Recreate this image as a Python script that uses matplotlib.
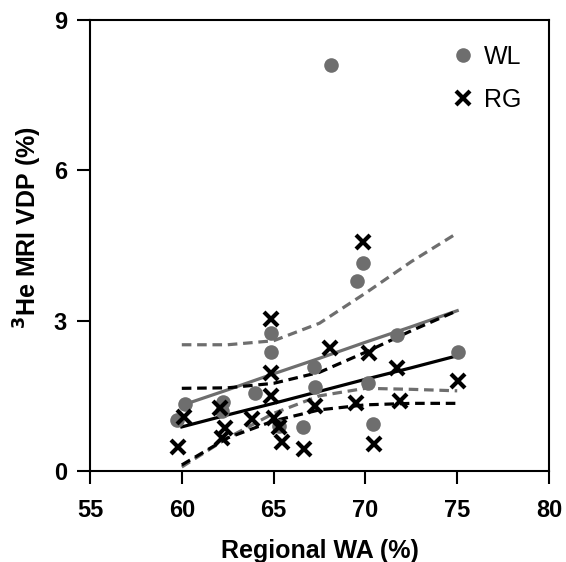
import numpy as np
import matplotlib
matplotlib.use("Agg")
import matplotlib.pyplot as plt

# values
wl_wa = [68.1, 69.85, 69.55, 64.85, 64.85, 71.7, 75.05, 67.2, 70.15, 67.25,
         64.0, 62.25, 60.2, 59.75, 65.3, 66.6, 70.4, 62.2]
wl_vdp = [8.1, 4.15, 3.8, 2.75, 2.38, 2.72, 2.38, 2.07, 1.75, 1.68,
          1.55, 1.38, 1.33, 1.02, 0.9, 0.87, 0.93, 1.2]

rg_wa = [69.85, 64.85, 68.05, 70.2, 71.7, 75.05, 64.85, 64.85, 69.5, 71.9,
         67.25, 60.1, 59.8, 62.1, 62.35, 62.2, 63.8, 65.0, 65.3, 65.45,
         66.65, 70.45]
rg_vdp = [4.58, 3.03, 2.45, 2.35, 2.05, 1.8, 1.95, 1.5, 1.35, 1.4,
          1.3, 1.07, 0.47, 1.25, 0.85, 0.65, 1.03, 1.05, 0.88, 0.57,
          0.43, 0.53]

# regression lines and 95% bands, read at these WA values
band_wa = [60, 62.5, 65, 67.5, 70, 72.5, 75]
wl_fit = [1.31, 1.62, 1.94, 2.25, 2.57, 2.88, 3.2]
wl_upper = [2.52, 2.52, 2.6, 2.95, 3.55, 4.18, 4.75]
wl_lower = [0.08, 0.66, 1.15, 1.5, 1.65, 1.63, 1.6]
rg_fit = [0.88, 1.12, 1.35, 1.59, 1.83, 2.06, 2.3]
rg_upper = [1.65, 1.66, 1.75, 1.97, 2.37, 2.8, 3.2]
rg_lower = [0.12, 0.66, 1.0, 1.22, 1.32, 1.35, 1.35]

x_ticks = [55, 60, 65, 70, 75, 80]
y_ticks = [0, 3, 6, 9]

GRAY = '#6e6e6e'
DASH = (0, (3, 1.8))

plt.rcParams['font.family'] = ['Liberation Sans', 'DejaVu Sans']

fig = plt.figure(figsize=(5.66, 5.62), dpi=100)
ax = fig.add_axes([0.159, 0.162, 0.811, 0.802])

for fit, lo, hi, col in [(wl_fit, wl_lower, wl_upper, GRAY),
                         (rg_fit, rg_lower, rg_upper, 'black')]:
    ax.plot(band_wa, fit, color=col, lw=2.3, zorder=2)
    ax.plot(band_wa, lo, color=col, lw=2.3, ls=DASH, zorder=2)
    ax.plot(band_wa, hi, color=col, lw=2.3, ls=DASH, zorder=2)

ax.plot(wl_wa, wl_vdp, 'o', color=GRAY, ms=10.5, mec='none', zorder=3, label='WL')
ax.plot(rg_wa, rg_vdp, 'x', color='black', ms=10.5, mew=3, zorder=4, label='RG')

ax.set_xlim(55, 80)
ax.set_ylim(0, 9)
ax.set_xticks(x_ticks)
ax.set_yticks(y_ticks)
ax.tick_params(direction='out', length=9.5, width=1.5, labelsize=17)
ax.tick_params(axis='x', pad=11)
ax.tick_params(axis='y', pad=7)
for lab in ax.get_xticklabels() + ax.get_yticklabels():
    lab.set_fontweight('bold')
for sp in ax.spines.values():
    sp.set_linewidth(1.5)

ax.set_xlabel('Regional WA (%)', fontsize=18, fontweight='bold', labelpad=12)
ax.set_ylabel('$^\\mathbf{3}$He MRI VDP (%)', fontsize=18, fontweight='bold')
ax.yaxis.set_label_coords(-0.1, 0.54)

ax.legend(loc='upper left', bbox_to_anchor=(0.73, 0.995), frameon=False,
          fontsize=18, handletextpad=0.25, labelspacing=0.75, handlelength=1.2)

fig.savefig('out.png', dpi=100)
